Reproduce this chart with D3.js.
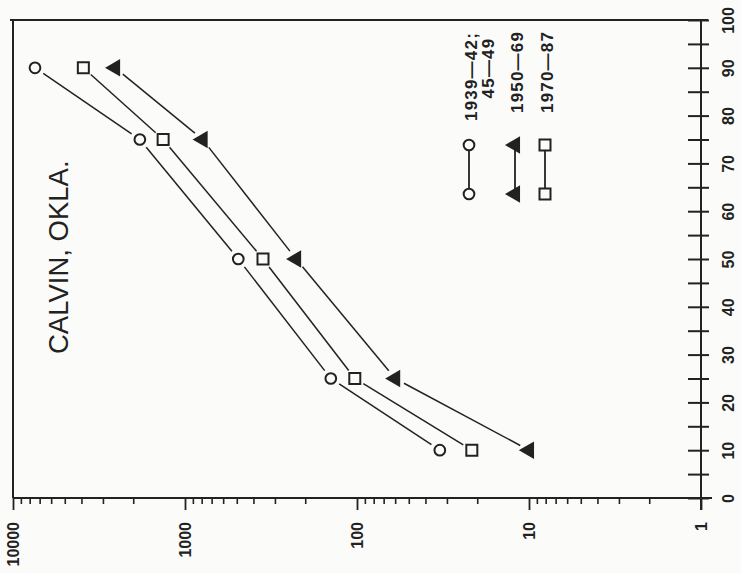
<!DOCTYPE html>
<html>
<head>
<meta charset="utf-8">
<script src="https://cdn.jsdelivr.net/npm/d3@7"></script>
<style>
  body { margin: 0; background: #fbfbf9; }
  svg { display: block; }
  .axis path, .axis line { stroke: #222; }
  .axis text { fill: #222; font-family: "Liberation Sans", Arial, sans-serif; font-weight: bold; font-size: 16px; }
</style>
</head>
<body>
<svg id="chart" width="741" height="573"></svg>
<script>
// percent (drawn vertically, the page is turned)
const percents = [90, 75, 50, 25, 10];
// discharge values per period
const series1939 = [7450, 1830, 490, 142, 33];
const series1950 = [2550, 790, 226, 60, 10];
const series1970 = [3900, 1340, 352, 103, 21.5];

const logTicks = [10000, 1000, 100, 10, 1];
const pctTicks = d3.range(0, 101, 5);
const pctLabels = d3.range(0, 101, 10);

const seriesNames = ["1939\u201442;", "1950\u201469", "1970\u201487"];

const svg = d3.select("#chart");
const ink = "#222";
const font = '"Liberation Sans", Arial, sans-serif';

const x = d3.scaleLog().domain([10000, 1]).range([13, 701]);
const y = d3.scaleLinear().domain([0, 100]).range([498, 20]);

// frame: top and left
svg.append("line").attr("x1", 10).attr("x2", 708).attr("y1", y(100)).attr("y2", y(100))
  .attr("stroke", ink).attr("stroke-width", 2);
svg.append("line").attr("x1", x(10000)).attr("x2", x(10000)).attr("y1", y(100)).attr("y2", y(0))
  .attr("stroke", ink).attr("stroke-width", 2);

// log axis, minor ticks
const minor = [];
logTicks.slice(1).forEach(d => { for (let k = 2; k <= 9; k++) minor.push(d * k); });
svg.append("g").attr("class", "axis")
  .attr("transform", `translate(0,${y(0)})`)
  .call(d3.axisBottom(x).tickValues(minor).tickSize(6).tickFormat(""))
  .call(g => g.select(".domain").remove())
  .call(g => g.selectAll("line").attr("stroke-width", 1.6));

// log axis, major ticks + labels
const bottom = svg.append("g").attr("class", "axis")
  .attr("transform", `translate(0,${y(0)})`)
  .call(d3.axisBottom(x).tickValues(logTicks).tickSize(12).tickSizeOuter(0).tickFormat(d3.format("d")));
bottom.select(".domain").attr("d", `M${x(10000)},0H712`).attr("stroke-width", 2.2);
bottom.selectAll("line").attr("stroke-width", 1.8);
bottom.selectAll("text")
  .attr("transform", "translate(0,24) rotate(-90)")
  .attr("x", 0).attr("y", 0).attr("dy", "0.35em")
  .attr("text-anchor", "end");

// percent axis on the right, ticks cross the line
const right = svg.append("g").attr("class", "axis")
  .attr("transform", `translate(${x(1)},0)`)
  .call(d3.axisRight(y).tickValues(pctTicks).tickSize(8).tickSizeOuter(0)
    .tickFormat(d => pctLabels.includes(d) ? d : ""));
right.select(".domain").attr("d", `M0,${y(100)}V${y(0) + 12}`).attr("stroke-width", 2);
right.selectAll("line").attr("x1", -13).attr("stroke-width", 2);
right.selectAll("text")
  .attr("transform", "translate(27,0) rotate(-90)")
  .attr("x", 0).attr("y", 0).attr("dy", "0.35em")
  .attr("text-anchor", "middle");

// title
svg.append("text")
  .attr("transform", `translate(58,354) rotate(-90)`)
  .attr("text-anchor", "start").attr("dy", "0.35em")
  .attr("font-family", font).attr("font-size", 27.5).attr("fill", ink)
  .text("CALVIN, OKLA.");

// markers
const circle = d3.symbol().type(d3.symbolCircle).size(90);
const square = d3.symbol().type(d3.symbolSquare).size(121);
const triangle = d3.symbol().type(d3.symbolTriangle).size(85);

const series = [
  { values: series1939, sym: circle, fill: "none", rot: 0 },
  { values: series1950, sym: triangle, fill: ink, rot: -90 },
  { values: series1970, sym: square, fill: "none", rot: 0 }
];

series.forEach(s => {
  const pts = s.values.map((v, i) => [x(v), y(percents[i])]);
  const segs = d3.pairs(pts).map(([a, b]) => {
    const dx = b[0] - a[0], dy = b[1] - a[1];
    const len = Math.hypot(dx, dy), gap = 10;
    return [a[0] + dx * gap / len, a[1] + dy * gap / len, b[0] - dx * gap / len, b[1] - dy * gap / len];
  });
  svg.append("g").selectAll("line").data(segs).join("line")
    .attr("x1", d => d[0]).attr("y1", d => d[1])
    .attr("x2", d => d[2]).attr("y2", d => d[3])
    .attr("stroke", ink).attr("stroke-width", 1.5);
  svg.append("g").selectAll("path").data(pts).join("path")
    .attr("d", s.sym)
    .attr("transform", d => `translate(${d[0]},${d[1]}) rotate(${s.rot})`)
    .attr("fill", s.fill).attr("stroke", ink).attr("stroke-width", 2);
});

// legend
const legX = [469, 515, 545];
const legTextStart = [121, 113, 113];
series.forEach((s, i) => {
  const g = svg.append("g").attr("transform", `translate(${legX[i]},0)`);
  g.append("line").attr("x1", 0).attr("x2", 0).attr("y1", 150).attr("y2", 190)
    .attr("stroke", ink).attr("stroke-width", 1.8);
  [145, 194].forEach(yy => {
    g.append("path").attr("d", s.sym)
      .attr("transform", `translate(0,${yy}) rotate(${s.rot})`)
      .attr("fill", s.fill === "none" ? "#fbfbf9" : s.fill)
      .attr("stroke", ink).attr("stroke-width", 2);
  });
  g.append("text")
    .attr("transform", `translate(2,${legTextStart[i]}) rotate(-90)`)
    .attr("dy", "0.35em")
    .attr("font-family", font).attr("font-weight", "bold").attr("font-size", 17)
    .attr("letter-spacing", 1.2).attr("fill", ink)
    .text(seriesNames[i]);
});
svg.append("text")
  .attr("transform", `translate(488,68) rotate(-90)`)
  .attr("text-anchor", "middle").attr("dy", "0.35em")
  .attr("font-family", font).attr("font-weight", "bold").attr("font-size", 17)
  .attr("letter-spacing", 1.2).attr("fill", ink)
  .text("45\u201449");
</script>
</body>
</html>
